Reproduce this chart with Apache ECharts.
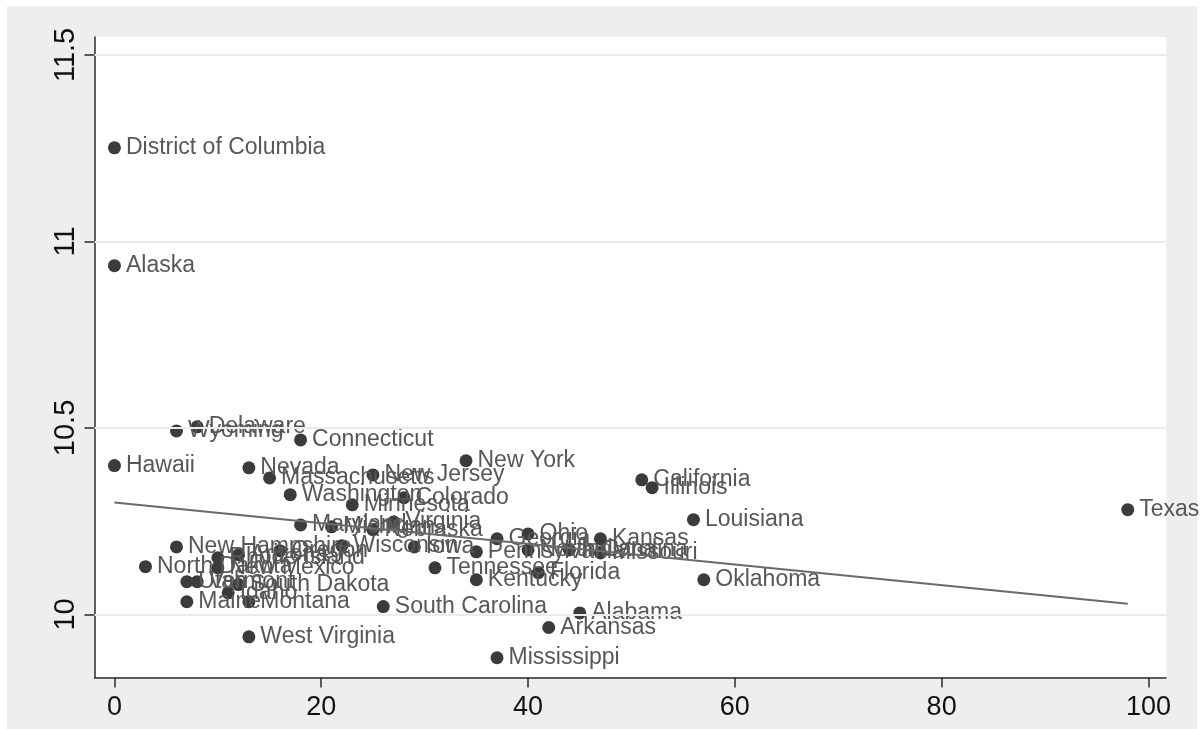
<!DOCTYPE html>
<html>
<head>
<meta charset="utf-8">
<script src="https://cdn.jsdelivr.net/npm/echarts@6/dist/echarts.min.js"></script>
<style>
  html, body { margin: 0; padding: 0; background: #ffffff; }
  #chart { width: 1202px; height: 729px; }
</style>
</head>
<body>
<div id="chart"></div>
<script>
// State names, x values and y values (one entry per state)
const states = [
  'District of Columbia', 'Alaska', 'Hawaii', 'Wyoming', 'Delaware', 'Connecticut',
  'Nevada', 'Massachusetts', 'Washington', 'New Jersey', 'New York', 'Colorado',
  'Minnesota', 'Maryland', 'Virginia', 'Nebraska', 'Michigan', 'Wisconsin',
  'Iowa', 'Pennsylvania', 'Georgia', 'Ohio', 'North Carolina', 'Indiana',
  'Kansas', 'Missouri', 'Tennessee', 'Kentucky', 'Florida', 'California',
  'Illinois', 'Louisiana', 'Oklahoma', 'Texas', 'Alabama', 'Arkansas',
  'Mississippi', 'South Carolina', 'West Virginia', 'Maine', 'Montana', 'North Dakota',
  'New Hampshire', 'New Mexico', 'Utah', 'Vermont', 'Idaho', 'South Dakota',
  'Rhode Island', 'Arizona', 'Oregon'
];
const xVals = [
  0, 0, 0, 6, 8, 18,
  13, 15, 17, 25, 34, 28,
  23, 18, 27, 25, 21, 22,
  29, 35, 37, 40, 40, 44,
  47, 47, 31, 35, 41, 51,
  52, 56, 57, 98, 45, 42,
  37, 26, 13, 7, 13, 3,
  6, 10, 7, 8, 11, 12,
  10, 12, 16
];
const yVals = [
  11.251, 10.935, 10.399, 10.492, 10.503, 10.468,
  10.393, 10.366, 10.321, 10.374, 10.412, 10.313,
  10.294, 10.240, 10.248, 10.227, 10.235, 10.184,
  10.181, 10.168, 10.203, 10.216, 10.173, 10.173,
  10.203, 10.165, 10.125, 10.093, 10.112, 10.361,
  10.340, 10.254, 10.093, 10.281, 10.004, 9.965,
  9.884, 10.021, 9.940, 10.034, 10.034, 10.128,
  10.181, 10.125, 10.088, 10.088, 10.058, 10.080,
  10.152, 10.160, 10.171
];

// Linear fit endpoints
const fitX = [0, 98];
const fitY = [10.300, 10.029];

// Axis tick values
const xTicks = [0, 20, 40, 60, 80, 100];
const yTicks = [10, 10.5, 11, 11.5];

const points = states.map((s, i) => [xVals[i], yVals[i], s]);
const fitLine = fitX.map((x, i) => [x, fitY[i]]);

const chart = echarts.init(document.getElementById('chart'), null, { renderer: 'canvas' });

const FONT = '"Liberation Sans", Arial, sans-serif';

chart.setOption({
  animation: false,
  backgroundColor: '#ffffff',
  graphic: [{
    type: 'rect',
    z: -10,
    shape: { x: 7, y: 6, width: 1190, height: 730 },
    style: { fill: '#eeeeee' },
    silent: true
  }],
  grid: {
    left: 94.5, top: 37, right: 36, bottom: 51.5,
    show: true, backgroundColor: '#ffffff', borderWidth: 0
  },
  xAxis: {
    type: 'value',
    min: -1.93, max: 101.7,
    axisLine: { show: true, onZero: false, lineStyle: { color: '#2b2b2b', width: 1.5 } },
    axisTick: { show: true, customValues: xTicks, length: 10, lineStyle: { color: '#2b2b2b', width: 1.5 } },
    axisLabel: { customValues: xTicks, margin: 17, color: '#111', fontSize: 27, fontFamily: FONT },
    splitLine: { show: false }
  },
  yAxis: {
    type: 'value',
    min: 9.831, max: 11.548,
    axisLine: { show: true, onZero: false, lineStyle: { color: '#2b2b2b', width: 1.5 } },
    axisTick: { show: true, customValues: yTicks, length: 10, lineStyle: { color: '#2b2b2b', width: 1.5 } },
    axisLabel: { customValues: yTicks, rotate: 90, margin: 14, color: '#111', fontSize: 29, fontFamily: FONT },
    splitLine: { show: false }
  },
  series: [
    {
      // horizontal gridlines at the y ticks
      type: 'line',
      data: [],
      z: 1,
      silent: true,
      markLine: {
        silent: true,
        symbol: 'none',
        animation: false,
        label: { show: false },
        lineStyle: { color: '#ebebeb', type: 'solid', width: 2 },
        data: yTicks.map(v => ({ yAxis: v }))
      }
    },
    {
      type: 'scatter',
      data: points,
      z: 3,
      symbol: 'circle',
      symbolSize: 13,
      itemStyle: { color: '#3b3b3b', opacity: 1 },
      label: {
        show: true,
        position: 'right',
        distance: 5,
        formatter: p => p.data[2],
        color: '#575757',
        fontSize: 23,
        fontFamily: FONT
      }
    },
    {
      type: 'line',
      data: fitLine,
      z: 4,
      symbol: 'none',
      silent: true,
      lineStyle: { color: '#6a6a6a', width: 2 }
    }
  ]
});
</script>
</body>
</html>
